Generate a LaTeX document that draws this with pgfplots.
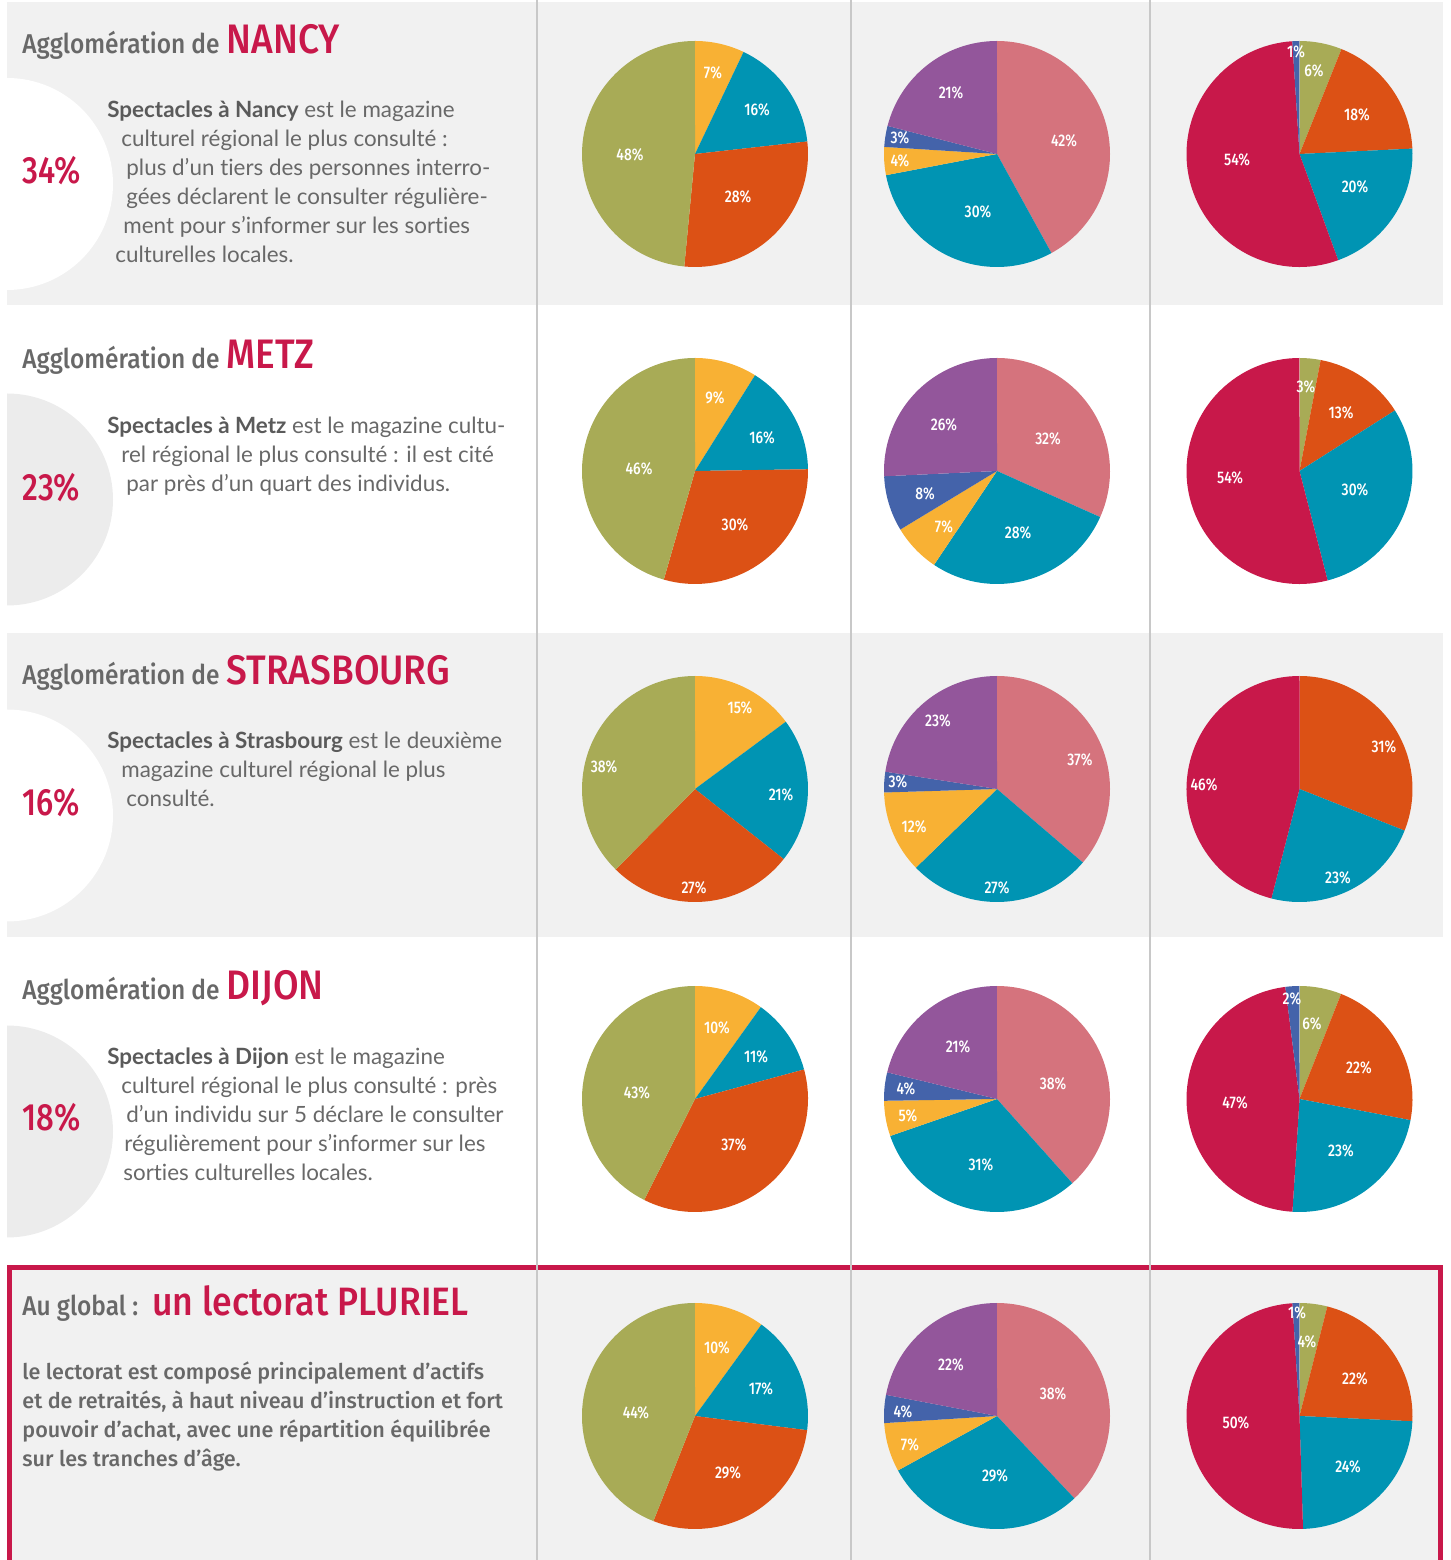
\documentclass[border=0pt]{standalone}
\usepackage{pgfplots}
\pgfplotsset{compat=1.18}
\usepackage{pgfplotstable}
\usepackage{fontspec}
\setmainfont{Lato}[Ligatures=NoCommon]
\newfontfamily\hfont{Fira Sans}[UprightFont=* Medium, FakeStretch=0.9]
\newfontfamily\gfont{Fira Sans}[UprightFont=* Medium]
\newfontfamily\pctfont{Fira Sans}[UprightFont=* Medium, FakeStretch=0.82]
\newfontfamily\labfont{Fira Sans}[UprightFont=* Medium, FakeStretch=0.82]

\definecolor{olv}{HTML}{A8AB56}
\definecolor{yel}{HTML}{F8B134}
\definecolor{tea}{HTML}{0094B3}
\definecolor{ora}{HTML}{DC5115}
\definecolor{pnk}{HTML}{D5737D}
\definecolor{blu}{HTML}{4463AA}
\definecolor{pur}{HTML}{93569B}
\definecolor{cri}{HTML}{C8184A}
\definecolor{txt}{HTML}{686868}
\definecolor{txb}{HTML}{5A5A5A}
\definecolor{bgg}{HTML}{F1F1F1}
\definecolor{dsk}{HTML}{ECECEC}
\definecolor{sep}{HTML}{C8C8C8}

% pie data: value, colour, label position (pixels from top-left)
\pgfplotstableread{
v c lx ly
7 yel 713 73
16 tea 757 110
28 ora 738 197
48 olv 630 155
}\pNa
\pgfplotstableread{
v c lx ly
42 pnk 1064 141
30 tea 978 212
4 yel 900 161
3 blu 900 138
21 pur 951 93
}\pNb
\pgfplotstableread{
v c lx ly
6 olv 1314 71
18 ora 1357 115
20 tea 1355 187
54 cri 1237 160
1 blu 1296 52
}\pNc
\pgfplotstableread{
v c lx ly
9 yel 715 398
16 tea 762 438
30 ora 735 525
46 olv 639 469
}\pMa
\pgfplotstableread{
v c lx ly
32 pnk 1048 439
28 tea 1018 533
7 yel 944 527
8 blu 925 494
26 pur 944 425
}\pMb
\pgfplotstableread{
v c lx ly
3 olv 1306 387
13 ora 1341 413
30 tea 1355 490
54 cri 1230 478
}\pMc
\pgfplotstableread{
v c lx ly
15 yel 740 708
21 tea 781 795
27 ora 694 888
38 olv 604 767
}\pSa
\pgfplotstableread{
v c lx ly
37 pnk 1080 760
27 tea 997 888
12 yel 914 827
3 blu 898 782
23 pur 938 721
}\pSb
\pgfplotstableread{
v c lx ly
31 ora 1384 747
23 tea 1338 878
46 cri 1204 785
}\pSc
\pgfplotstableread{
v c lx ly
10 yel 717 1028
11 tea 756 1057
37 ora 734 1145
43 olv 637 1093
}\pDa
\pgfplotstableread{
v c lx ly
38 pnk 1053 1084
31 tea 981 1165
5 yel 908 1116
4 blu 906 1089
21 pur 958 1047
}\pDb
\pgfplotstableread{
v c lx ly
6 olv 1312 1024
22 ora 1359 1068
23 tea 1341 1151
47 cri 1235 1103
2 blu 1292 999
}\pDc
\pgfplotstableread{
v c lx ly
10 yel 717 1348
17 tea 761 1389
29 ora 728 1473
44 olv 636 1413
}\pGa
\pgfplotstableread{
v c lx ly
38 pnk 1053 1394
29 tea 995 1476
7 yel 910 1445
4 blu 903 1412
22 pur 951 1365
}\pGb
\pgfplotstableread{
v c lx ly
4 olv 1307 1342
22 ora 1355 1379
24 tea 1348 1467
50 cri 1236 1423
1 blu 1297 1313
}\pGc

% turn a table into a list colour/start angle/end angle (clockwise from 12 o'clock)
\newcommand\prepie[2]{%
  \pgfplotstablegetrowsof{#1}%
  \pgfmathtruncatemacro\pielast{\pgfplotsretval-1}%
  \xdef\pietot{0}%
  \foreach \i in {0,...,\pielast}{%
    \pgfplotstablegetelem{\i}{v}\of{#1}%
    \pgfmathsetmacro\pietmp{\pietot+\pgfplotsretval}%
    \xdef\pietot{\pietmp}}%
  \xdef\pieang{90}%
  \gdef\pielist{}%
  \foreach \i in {0,...,\pielast}{%
    \pgfplotstablegetelem{\i}{v}\of{#1}\let\pieval\pgfplotsretval
    \pgfplotstablegetelem{\i}{c}\of{#1}\let\piecol\pgfplotsretval
    \pgfmathsetmacro\pieend{\pieang-\pieval/\pietot*360}%
    \ifnum\i=0 \xdef\pielist{\piecol/\pieang/\pieend}%
    \else \xdef\pielist{\pielist,\piecol/\pieang/\pieend}\fi
    \xdef\pieang{\pieend}}%
  \expandafter\xdef\csname pl#2\endcsname{\pielist}%
}
\prepie{\pNa}{Na}\prepie{\pNb}{Nb}\prepie{\pNc}{Nc}
\prepie{\pMa}{Ma}\prepie{\pMb}{Mb}\prepie{\pMc}{Mc}
\prepie{\pSa}{Sa}\prepie{\pSb}{Sb}\prepie{\pSc}{Sc}
\prepie{\pDa}{Da}\prepie{\pDb}{Db}\prepie{\pDc}{Dc}
\prepie{\pGa}{Ga}\prepie{\pGb}{Gb}\prepie{\pGc}{Gc}

\newcommand\drawpie[3]{%
  \expandafter\let\expandafter\curlist\csname pl#1\endcsname
  \foreach \c/\a/\b in \curlist {%
    \fill[\c] (axis cs:#2,-#3) -- ++(\a:56.5pt)
      arc[start angle=\a, end angle=\b, radius=56.5pt] -- cycle;}%
}
\newcommand\tl[3]{\node[anchor=base west, inner sep=0pt, text=txt,
  font=\fontsize{11.2}{12}\selectfont] at (axis cs:#1,-#2) {#3};}
\newcommand\gl[3]{\node[anchor=base west, inner sep=0pt, text=txt,
  font=\gfont\fontsize{10.8}{12}\selectfont] at (axis cs:#1,-#2) {#3};}
\newcommand\head[3]{\node[anchor=base west, inner sep=0pt] at (axis cs:22,-#1)
  {\hfont\fontsize{13.6}{16}\selectfont\color{txt}#2\hspace{3.5pt}\fontsize{20.6}{22}\selectfont\color{cri}#3};}
\newcommand\pct[2]{\node[anchor=base west, inner sep=0pt, text=cri,
  font=\pctfont\fontsize{19}{20}\selectfont] at (axis cs:22,-#1) {#2};}
\newcommand\B[1]{{\color{txb}\bfseries #1}}

\pgfplotsset{pielab/.style={draw=none, mark=none,
  nodes near coords={\pgfplotspointmeta\%}, point meta=explicit symbolic,
  every node near coord/.append style={font=\labfont\fontsize{8.4}{9}\selectfont,
    text=white, anchor=center, inner sep=0pt}}}

\begin{document}
\begin{tikzpicture}
\path[use as bounding box] (0,0) rectangle (725.5pt,780pt);
\begin{axis}[at={(0,0)}, anchor=south west, scale only axis,
  width=725.5pt, height=780pt, xmin=0, xmax=1451, ymin=-1560, ymax=0,
  hide axis, clip=false]
\pgfplotsextra{%
  \fill[bgg] (axis cs:7,-2) rectangle (axis cs:1443,-305);
  \fill[bgg] (axis cs:7,-633) rectangle (axis cs:1443,-937);
  \fill[bgg] (axis cs:7,-1265) rectangle (axis cs:1443,-1560);
  \begin{scope}
    \clip (axis cs:7,0) rectangle (axis cs:200,-1260);
    \fill[white] (axis cs:7,-184) circle[radius=53pt];
    \fill[dsk] (axis cs:7,-499.5) circle[radius=53pt];
    \fill[white] (axis cs:7,-815.5) circle[radius=53pt];
    \fill[dsk] (axis cs:7,-1131.5) circle[radius=53pt];
  \end{scope}
  \draw[cri, line width=2.5pt] (axis cs:9.5,-1560) -- (axis cs:9.5,-1267.5)
    -- (axis cs:1440.5,-1267.5) -- (axis cs:1440.5,-1560);
  \draw[sep, line width=0.9pt] (axis cs:537,0) -- (axis cs:537,-1560);
  \draw[sep, line width=0.9pt] (axis cs:851,0) -- (axis cs:851,-1560);
  \draw[sep, line width=0.9pt] (axis cs:1150,0) -- (axis cs:1150,-1560);
  \drawpie{Na}{695}{154}\drawpie{Nb}{997}{154}\drawpie{Nc}{1299.5}{154}
  \drawpie{Ma}{695}{471}\drawpie{Mb}{997}{471}\drawpie{Mc}{1299.5}{471}
  \drawpie{Sa}{695}{789}\drawpie{Sb}{997}{789}\drawpie{Sc}{1299.5}{789}
  \drawpie{Da}{695}{1099}\drawpie{Db}{997}{1099}\drawpie{Dc}{1299.5}{1099}
  \drawpie{Ga}{695}{1416}\drawpie{Gb}{997}{1416}\drawpie{Gc}{1299.5}{1416}
  % texts
  \head{54}{Agglomération de}{NANCY}
  \head{369}{Agglomération de}{METZ}
  \head{685}{Agglomération de}{STRASBOURG}
  \head{1000}{Agglomération de}{DIJON}
  \node[anchor=base west, inner sep=0pt] at (axis cs:22,-1316)
    {\hfont\fontsize{13.6}{16}\selectfont\color{txt}Au global :};
  \node[anchor=base west, inner sep=0pt] at (axis cs:152,-1316)
    {\hfont\fontsize{19.8}{22}\selectfont\color{cri}un lectorat PLURIEL};
  \pct{184}{34\%}\pct{501}{23\%}\pct{816}{16\%}\pct{1131}{18\%}
  \tl{107}{118}{\B{Spectacles à Nancy} est le magazine}
  \tl{121}{147}{culturel régional le plus consulté :}
  \tl{126}{176}{plus d’un tiers des personnes interro-}
  \tl{126}{205}{gées déclarent le consulter régulière-}
  \tl{123}{234}{ment pour s’informer sur les sorties}
  \tl{115}{263}{culturelles locales.}
  \tl{107}{434}{\B{Spectacles à Metz} est le magazine cultu-}
  \tl{121}{463}{rel régional le plus consulté : il est cité}
  \tl{126}{492}{par près d’un quart des individus.}
  \tl{107}{749}{\B{Spectacles à Strasbourg} est le deuxième}
  \tl{121}{778}{magazine culturel régional le plus}
  \tl{126}{807}{consulté.}
  \tl{107}{1065}{\B{Spectacles à Dijon} est le magazine}
  \tl{121}{1094}{culturel régional le plus consulté : près}
  \tl{126}{1123}{d’un individu sur 5 déclare le consulter}
  \tl{124}{1152}{régulièrement pour s’informer sur les}
  \tl{123}{1181}{sorties culturelles locales.}
  \gl{22}{1380}{le lectorat est composé principalement d’actifs}
  \gl{22}{1409}{et de retraités, à haut niveau d’instruction et fort}
  \gl{22}{1438}{pouvoir d’achat, avec une répartition équilibrée}
  \gl{22}{1467}{sur les tranches d’âge.}
}
\addplot[pielab] table[x=lx, y expr=-\thisrow{ly}, meta=v] {\pNa};
\addplot[pielab] table[x=lx, y expr=-\thisrow{ly}, meta=v] {\pNb};
\addplot[pielab] table[x=lx, y expr=-\thisrow{ly}, meta=v] {\pNc};
\addplot[pielab] table[x=lx, y expr=-\thisrow{ly}, meta=v] {\pMa};
\addplot[pielab] table[x=lx, y expr=-\thisrow{ly}, meta=v] {\pMb};
\addplot[pielab] table[x=lx, y expr=-\thisrow{ly}, meta=v] {\pMc};
\addplot[pielab] table[x=lx, y expr=-\thisrow{ly}, meta=v] {\pSa};
\addplot[pielab] table[x=lx, y expr=-\thisrow{ly}, meta=v] {\pSb};
\addplot[pielab] table[x=lx, y expr=-\thisrow{ly}, meta=v] {\pSc};
\addplot[pielab] table[x=lx, y expr=-\thisrow{ly}, meta=v] {\pDa};
\addplot[pielab] table[x=lx, y expr=-\thisrow{ly}, meta=v] {\pDb};
\addplot[pielab] table[x=lx, y expr=-\thisrow{ly}, meta=v] {\pDc};
\addplot[pielab] table[x=lx, y expr=-\thisrow{ly}, meta=v] {\pGa};
\addplot[pielab] table[x=lx, y expr=-\thisrow{ly}, meta=v] {\pGb};
\addplot[pielab] table[x=lx, y expr=-\thisrow{ly}, meta=v] {\pGc};
\end{axis}
\end{tikzpicture}
\end{document}
